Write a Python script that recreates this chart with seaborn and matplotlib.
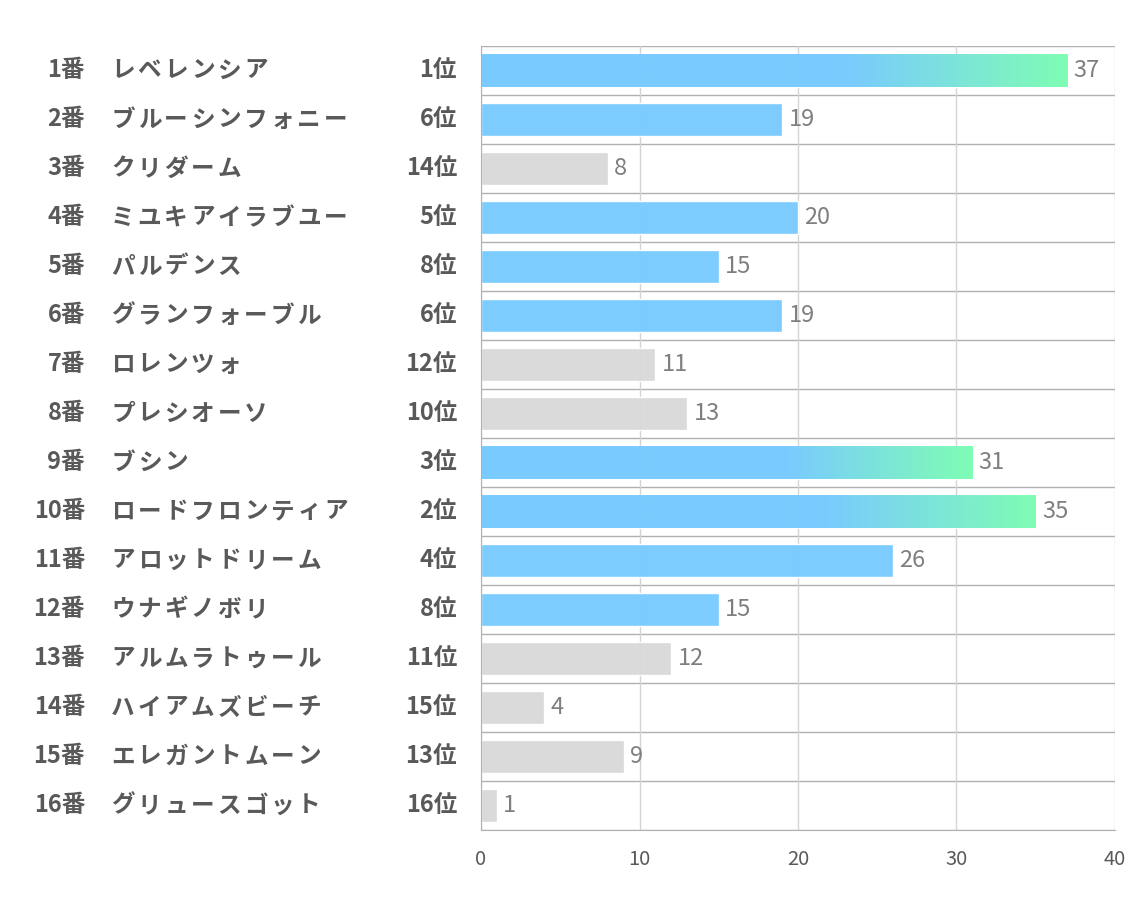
import numpy as np
import pandas as pd
import seaborn as sns
import matplotlib.pyplot as plt
from matplotlib.colors import LinearSegmentedColormap

# データ
umaban = [f"{i}番" for i in range(1, 17)]
names = ["レベレンシア", "ブルーシンフォニー", "クリダーム", "ミユキアイラブユー",
         "パルデンス", "グランフォーブル", "ロレンツォ", "プレシオーソ",
         "ブシン", "ロードフロンティア", "アロットドリーム", "ウナギノボリ",
         "アルムラトゥール", "ハイアムズビーチ", "エレガントムーン", "グリュースゴット"]
ranks = [1, 6, 14, 5, 8, 6, 12, 10, 3, 2, 4, 8, 11, 15, 13, 16]
values = [37, 19, 8, 20, 15, 19, 11, 13, 31, 35, 26, 15, 12, 4, 9, 1]
xticks = [0, 10, 20, 30, 40]

BLUE = "#79CBFF"
GREEN = "#7FFFB2"
GRAY = "#D9D9D9"
TXT = "#595959"

sns.set_style("white")
plt.rcParams["font.family"] = ["Noto Sans CJK JP", "DejaVu Sans"]

df = pd.DataFrame({"label": umaban, "value": values, "rank": ranks})
df["group"] = np.where(df["rank"] <= 8, "top", "other")

fig = plt.figure(figsize=(11.34, 9.07), dpi=100)
ax = fig.add_axes([0.4242, 0.0849, 0.559, 0.8644])

sns.barplot(data=df, x="value", y="label", hue="group",
            palette={"top": BLUE, "other": GRAY}, orient="h", saturation=1,
            width=0.67, dodge=False, legend=False, ax=ax, alpha=0.97)

# 上位3頭はグラデーション (パッチは y 位置で行に対応付け)
cmap = LinearSegmentedColormap.from_list("bg", [(0, BLUE), (0.62, BLUE), (1, GREEN)])
grad = np.linspace(0, 1, 256).reshape(1, -1)
for patch in list(ax.patches):
    if patch.get_width() <= 0:
        continue
    row = int(round(patch.get_y() + patch.get_height() / 2))
    if ranks[row] <= 3:
        x0, y0 = patch.get_x(), patch.get_y()
        w, h = patch.get_width(), patch.get_height()
        im = ax.imshow(grad, cmap=cmap, aspect="auto", extent=[x0, x0 + w, y0 + h, y0],
                       zorder=patch.get_zorder() + 0.1, alpha=0.97)
        im.set_clip_path(patch)

ax.set_xlim(0, 40)
ax.set_ylim(15.5, -0.5)
ax.set_xticks(xticks)
ax.set_yticks([])
ax.set_xlabel("")
ax.set_ylabel("")
ax.tick_params(axis="x", length=0, pad=14, labelsize=14.5, labelcolor=TXT)

ax.grid(axis="x", color="#D4D4D4", linewidth=1)
ax.set_axisbelow(True)
for yb in np.arange(-0.5, 16, 1):
    ax.axhline(yb, color="#B0B0B0", linewidth=1, zorder=0.5)

for s in ["top", "right"]:
    ax.spines[s].set_visible(False)
ax.spines["left"].set_color("#B0B0B0")
ax.spines["bottom"].set_color("#B0B0B0")

tf = ax.get_yaxis_transform()
pitch = 26.6 * 72 / 100  # 1文字あたりの送り (pt)
for i, (u, n, r, v) in enumerate(zip(umaban, names, ranks, values)):
    ax.text(-0.6246, i, u, transform=tf, ha="right", va="center",
            fontsize=17, fontweight="bold", color=TXT)
    for k, ch in enumerate(n):
        ax.annotate(ch, xy=(-0.5860, i), xycoords=tf,
                    xytext=((k + 0.5) * pitch, 0), textcoords="offset points",
                    ha="center", va="center", fontsize=17, fontweight="bold", color=TXT)
    ax.text(-0.0379, i, f"{r}位", transform=tf, ha="right", va="center",
            fontsize=17, fontweight="bold", color=TXT)
    ax.text(v + 0.4, i, str(v), ha="left", va="center",
            fontsize=17, color="#7F7F7F")

fig.savefig("out.png", dpi=100)
